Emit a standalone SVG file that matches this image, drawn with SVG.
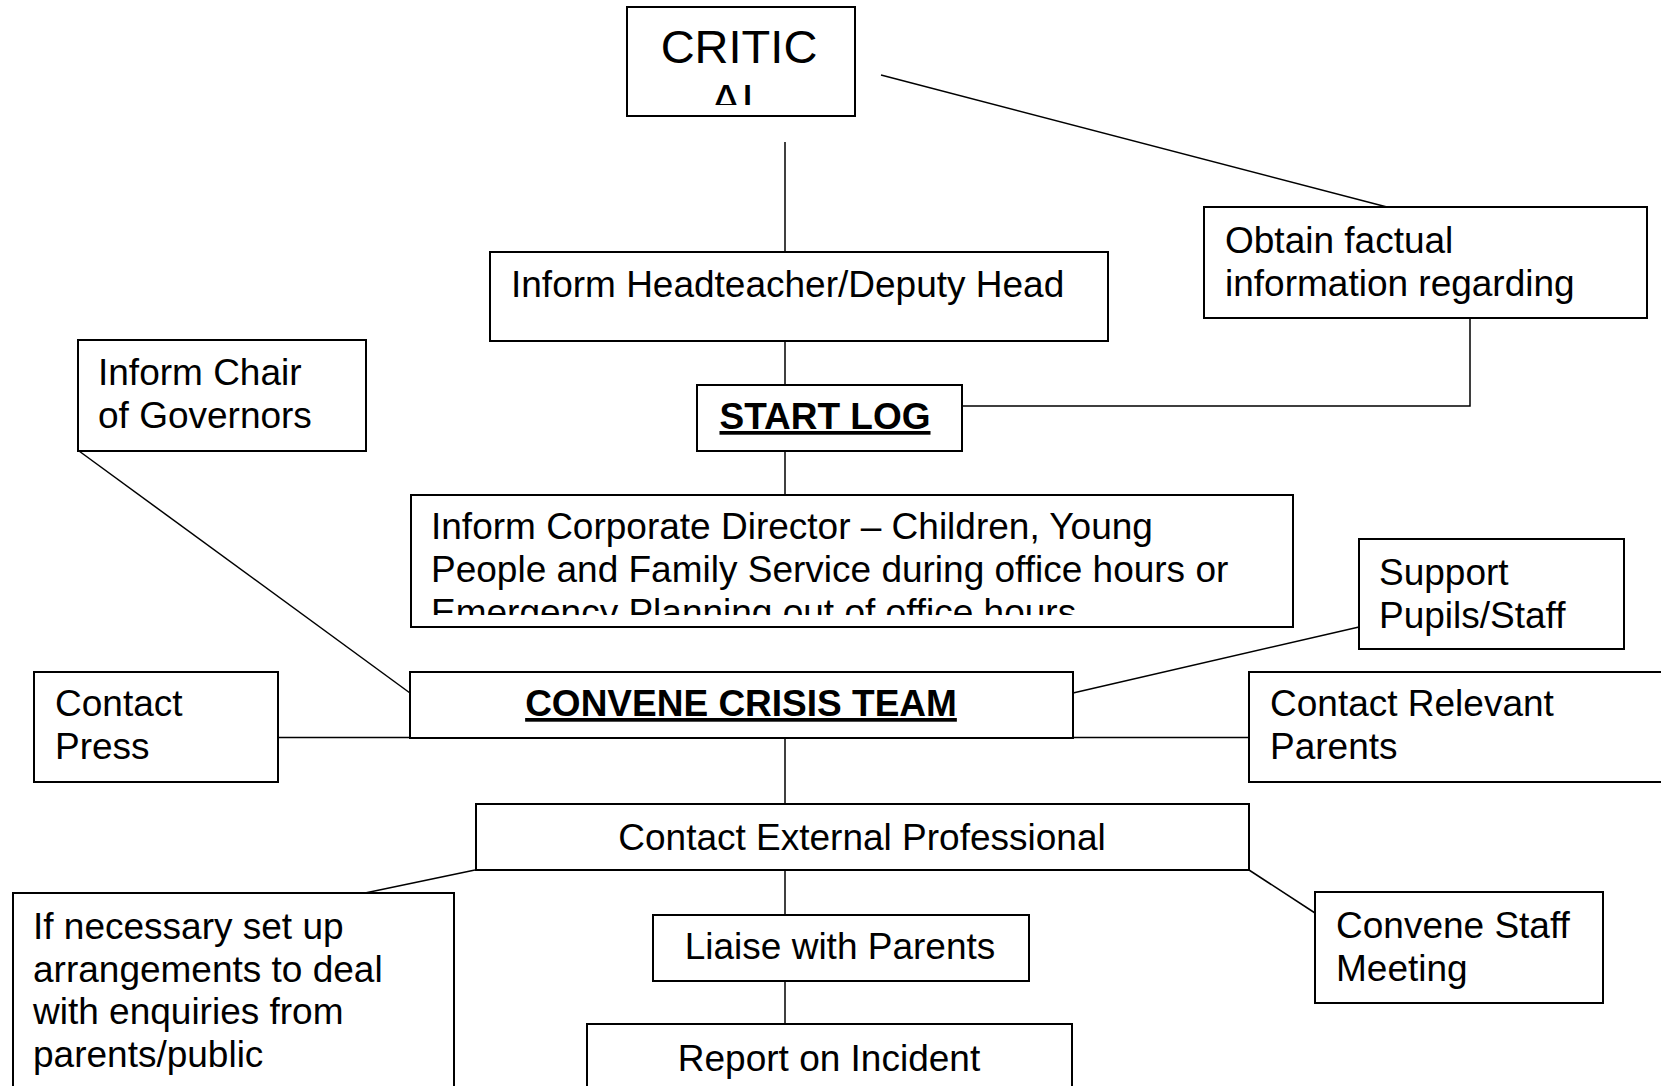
<svg xmlns="http://www.w3.org/2000/svg" width="1661" height="1086" viewBox="0 0 1661 1086">
  <style>
    .box { fill: #ffffff; stroke: #000000; stroke-width: 2; }
    .conn { fill: none; stroke: #000000; stroke-width: 1.5; }
    text { font-family: "Liberation Sans", Arial, sans-serif; font-size: 37px; fill: #000000; }
    .big { font-size: 47px; }
    .key { font-weight: bold; text-decoration: underline; }
  </style>
  <defs>
    <clipPath id="clip-critical"><rect x="627" y="7" width="228" height="98"/></clipPath>
    <clipPath id="clip-director"><rect x="411" y="495" width="882" height="120"/></clipPath>
  </defs>
  <rect width="1661" height="1086" fill="#ffffff"/>

  <!-- connectors -->
  <g id="connectors">
    <line class="conn" x1="785" y1="142" x2="785" y2="252"/>
    <line class="conn" x1="881" y1="75" x2="1387" y2="207"/>
    <line class="conn" x1="785" y1="341" x2="785" y2="385"/>
    <path class="conn" d="M962,406 H1470 V318"/>
    <line class="conn" x1="785" y1="451" x2="785" y2="495"/>
    <line class="conn" x1="79" y1="451" x2="410" y2="693"/>
    <line class="conn" x1="1073" y1="693" x2="1359" y2="627"/>
    <line class="conn" x1="278" y1="737.5" x2="1249" y2="737.5"/>
    <line class="conn" x1="785" y1="738" x2="785" y2="804"/>
    <line class="conn" x1="475" y1="870" x2="365" y2="893"/>
    <line class="conn" x1="1249" y1="870" x2="1315" y2="913"/>
    <line class="conn" x1="785" y1="870" x2="785" y2="915"/>
    <line class="conn" x1="785" y1="981" x2="785" y2="1024"/>
  </g>

  <g id="critical">
    <rect class="box" x="627" y="7" width="228" height="109"/>
    <g clip-path="url(#clip-critical)">
      <text class="big" x="739" y="63" text-anchor="middle">CRITIC</text>
      <text class="big" x="739" y="117" text-anchor="middle">AL</text>
    </g>
  </g>

  <g id="obtain-info">
    <rect class="box" x="1204" y="207" width="443" height="111"/>
    <text x="1225" y="253">Obtain factual</text>
    <text x="1225" y="296">information regarding</text>
  </g>

  <g id="inform-head">
    <rect class="box" x="490" y="252" width="618" height="89"/>
    <text x="511" y="297">Inform Headteacher/Deputy Head</text>
  </g>

  <g id="inform-chair">
    <rect class="box" x="78" y="340" width="288" height="111"/>
    <text x="98" y="385">Inform Chair</text>
    <text x="98" y="428">of Governors</text>
  </g>

  <g id="start-log">
    <rect class="box" x="697" y="385" width="265" height="66"/>
    <text class="key" x="825" y="429" text-anchor="middle">START LOG</text>
  </g>

  <g id="inform-director">
    <rect class="box" x="411" y="495" width="882" height="132"/>
    <g clip-path="url(#clip-director)">
      <text x="431" y="539">Inform Corporate Director – Children, Young</text>
      <text x="431" y="582">People and Family Service during office hours or</text>
      <text x="431" y="625">Emergency Planning out of office hours</text>
    </g>
  </g>

  <g id="support">
    <rect class="box" x="1359" y="539" width="265" height="110"/>
    <text x="1379" y="585">Support</text>
    <text x="1379" y="628">Pupils/Staff</text>
  </g>

  <g id="contact-press">
    <rect class="box" x="34" y="672" width="244" height="110"/>
    <text x="55" y="716">Contact</text>
    <text x="55" y="759">Press</text>
  </g>

  <g id="crisis-team">
    <rect class="box" x="410" y="672" width="663" height="66"/>
    <text class="key" x="741" y="716" text-anchor="middle">CONVENE CRISIS TEAM</text>
  </g>

  <g id="contact-parents">
    <rect class="box" x="1249" y="672" width="460" height="110"/>
    <text x="1270" y="716">Contact Relevant</text>
    <text x="1270" y="759">Parents</text>
  </g>

  <g id="contact-external">
    <rect class="box" x="476" y="804" width="773" height="66"/>
    <text x="862" y="850" text-anchor="middle">Contact External Professional</text>
  </g>

  <g id="enquiries">
    <rect class="box" x="13" y="893" width="441" height="220"/>
    <text x="33" y="939">If necessary set up</text>
    <text x="33" y="982">arrangements to deal</text>
    <text x="33" y="1024">with enquiries from</text>
    <text x="33" y="1067">parents/public</text>
  </g>

  <g id="liaise">
    <rect class="box" x="653" y="915" width="376" height="66"/>
    <text x="840" y="959" text-anchor="middle">Liaise with Parents</text>
  </g>

  <g id="staff-meeting">
    <rect class="box" x="1315" y="892" width="288" height="111"/>
    <text x="1336" y="938">Convene Staff</text>
    <text x="1336" y="981">Meeting</text>
  </g>

  <g id="report">
    <rect class="box" x="587" y="1024" width="485" height="90"/>
    <text x="829" y="1071" text-anchor="middle">Report on Incident</text>
  </g>
</svg>
